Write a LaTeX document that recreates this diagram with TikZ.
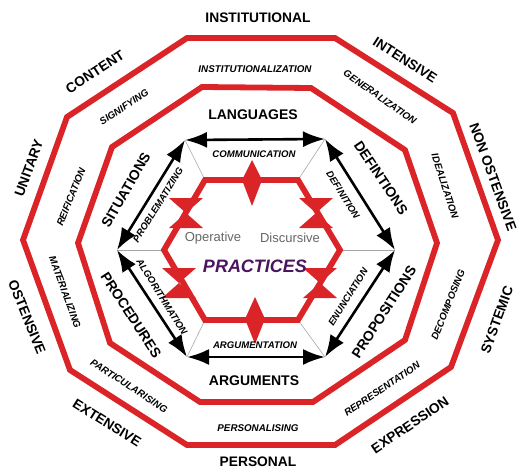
\documentclass[tikz,border=0pt]{standalone}
\usepackage{fontspec}
\setmainfont{Liberation Sans}
\usetikzlibrary{arrows.meta}
\definecolor{dred}{RGB}{218,36,40}
\definecolor{prac}{RGB}{75,20,95}
\begin{document}
\begin{tikzpicture}[x=1pt,y=-1pt,
  redline/.style={draw=dred,line width=5.8pt,line join=miter},
  redshape/.style={fill=dred,draw=none},
  outerlbl/.style={font=\fontsize{13.8}{14}\selectfont\bfseries, inner sep=0pt},
  bandlbl/.style={font=\fontsize{9.8}{10}\selectfont\bfseries\itshape, inner sep=0pt},
  innerlbl/.style={font=\fontsize{14}{15}\selectfont\bfseries, inner sep=0pt},
  arrlbl/.style={font=\fontsize{9.6}{10}\selectfont\bfseries\itshape, inner sep=0pt},
  dbl/.style={{Latex[length=22pt,width=16pt]}-{Latex[length=22pt,width=16pt]}, line width=2.6pt},
  thinline/.style={draw=gray!70, line width=0.6pt},
  pracmode/.style={font=\fontsize{13}{14}\selectfont, text=gray!80!black, inner sep=0pt},
]
\useasboundingbox (0,0) rectangle (518,471);

% outer decagon
\draw[redline] (187,38) -- (335,38) -- (453,113) -- (498,240) -- (451,367) -- (335,445)
  -- (187,445) -- (70,370) -- (23,240) -- (67,117) -- cycle;
% middle decagon
\draw[redline] (202,87) -- (311,88) -- (405,150) -- (437,243) -- (405,340) -- (313,402)
  -- (200,402) -- (110,343) -- (78,243) -- (112,147) -- cycle;

% hexagon vertices
\coordinate (h1) at (205,180);
\coordinate (h2) at (298,180);
\coordinate (h3) at (340,250);
\coordinate (h4) at (298,320);
\coordinate (h5) at (205,320);
\coordinate (h6) at (164,250);
% arrow hexagon vertices
\coordinate (a1) at (185,140);
\coordinate (a2) at (325,139);
\coordinate (a3) at (395,250);
\coordinate (a4) at (325,357);
\coordinate (a5) at (187,357);
\coordinate (a6) at (117,250);

% thin connecting lines
\draw[thinline] (h1) -- (a1);
\draw[thinline] (h2) -- (a2);
\draw[thinline] (h3) -- (a3);
\draw[thinline] (h4) -- (a4);
\draw[thinline] (h5) -- (a5);
\draw[thinline] (h6) -- (a6);

% hexagon
\draw[redline] (h1) -- (h2) -- (h3) -- (h4) -- (h5) -- (h6) -- cycle;

% red markers on hexagon
\fill[redshape] (252,160) -- (262,180) -- (252,206) -- (242,180) -- cycle;
\fill[redshape] (255,297) -- (265,319) -- (255,344) -- (245,319) -- cycle;
\foreach \cx/\cy in {316/213, 186/213, 179/283, 320/283}{
  \fill[redshape] (\cx-17,\cy-15) -- (\cx+17,\cy-15) -- (\cx,\cy) -- cycle;
  \fill[redshape] (\cx-17,\cy+15) -- (\cx+17,\cy+15) -- (\cx,\cy) -- cycle;
}

% arrows
\draw[dbl] (a1) -- (a2);
\draw[dbl] (a2) -- (a3);
\draw[dbl] (a3) -- (a4);
\draw[dbl] (a5) -- (a4);
\draw[dbl] (a6) -- (a5);
\draw[dbl] (a6) -- (a1);

% outer labels
\node[outerlbl] (l1) at (258,18) {INSTITUTIONAL};
\node[outerlbl,rotate=-33] (l2) at (405,60) {INTENSIVE};
\node[outerlbl,rotate=-70] (l3) at (493,177) {NON OSTENSIVE};
\node[outerlbl,rotate=70] (l4) at (497,320) {SYSTEMIC};
\node[outerlbl,rotate=34] (l5) at (410,425) {EXPRESSION};
\node[outerlbl] (l6) at (258,462) {PERSONAL};
\node[outerlbl,rotate=-32] (l7) at (107,423) {EXTENSIVE};
\node[outerlbl,rotate=-68] (l8) at (27,317) {OSTENSIVE};
\node[outerlbl,rotate=70] (l9) at (29,168) {UNITARY};
\node[outerlbl,rotate=33] (l10) at (95,72) {CONTENT};

% band labels
\node[bandlbl] (b1) at (255,69) {INSTITUTIONALIZATION};
\node[bandlbl,rotate=-35] (b2) at (380,97) {GENERALIZATION};
\node[bandlbl,rotate=-72] (b3) at (445,186) {IDEALIZATION};
\node[bandlbl,rotate=68] (b4) at (448,305) {DECOMPOSING};
\node[bandlbl,rotate=34] (b5) at (382,389) {REPRESENTATION};
\node[bandlbl] (b6) at (258,428) {PERSONALISING};
\node[bandlbl,rotate=-33] (b7) at (129,386) {PARTICULARISING};
\node[bandlbl,rotate=-70] (b8) at (65,292) {MATERIALIZING};
\node[bandlbl,rotate=68] (b9) at (71,197) {REIFICATION};
\node[bandlbl,rotate=34] (b10) at (124,107) {SIGNIFYING};

% inner labels
\node[innerlbl] (i1) at (253,115) {LANGUAGES};
\node[innerlbl,rotate=-56] (i2) at (381,178) {DEFINTIONS};
\node[innerlbl,rotate=57] (i3) at (384,312) {PROPOSITIONS};
\node[innerlbl] (i4) at (254,381) {ARGUMENTS};
\node[innerlbl,rotate=-57] (i5) at (131,315) {PROCEDURES};
\node[innerlbl,rotate=60] (i6) at (126,190) {SITUATIONS};

% arrow labels
\node[arrlbl] (c1) at (254,154) {COMMUNICATION};
\node[arrlbl,rotate=-58] (c2) at (343,195) {DEFINITION};
\node[arrlbl,rotate=58] (c3) at (348,297) {ENUNCIATION};
\node[arrlbl] (c4) at (255,345) {ARGUMENTATION};
\node[arrlbl,rotate=-58] (c5) at (162,297) {ALGORITHMATION};
\node[arrlbl,rotate=58] (c6) at (158,205) {PROBLEMATIZING};

% center
\node[pracmode] (op) at (213,238) {Operative};
\node[pracmode] (di) at (290,238) {Discursive};
\node[font=\fontsize{18}{20}\selectfont\bfseries\itshape, text=prac, inner sep=0pt] (pr) at (255,266) {PRACTICES};
\end{tikzpicture}
\end{document}
